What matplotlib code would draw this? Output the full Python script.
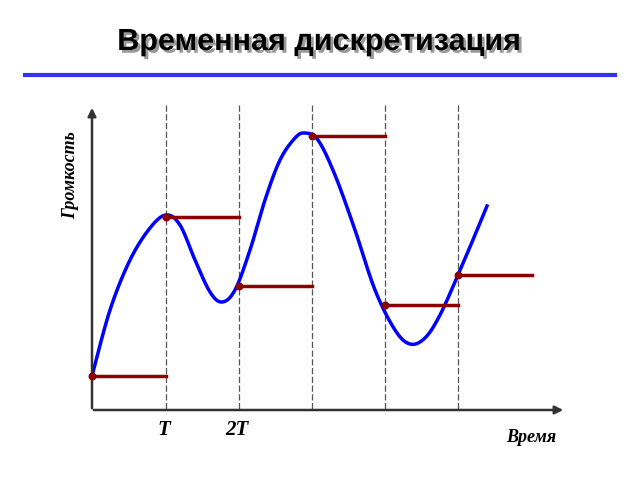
import numpy as np
import matplotlib.pyplot as plt
import matplotlib.patheffects as pe

# sample positions (pixel-space) and sampled values
sample_x = [92, 166, 239, 312, 385, 458]
sample_y = [376, 217, 286, 136, 305, 275]
hold_end = [166, 239, 312, 385, 458, 532]
# curve points
curve_x = [92,110,130,150,166,180,195,210,222,235,250,265,280,295,305,318,335,355,375,395,410,425,440,458,475,487]
curve_y = [376,310,260,228,215,225,260,292,302,290,250,200,160,138,133,140,175,230,290,330,344,338,315,275,235,206]
tick_labels = ["T", "2T"]

def catmull(xs, ys, n=12):
    P = np.column_stack([xs, ys]).astype(float)
    P = np.vstack([P[0], P, P[-1]])
    out = []
    for i in range(1, len(P) - 2):
        p0, p1, p2, p3 = P[i-1], P[i], P[i+1], P[i+2]
        for t in np.linspace(0, 1, n, endpoint=False):
            out.append(0.5*((2*p1) + (-p0+p2)*t + (2*p0-5*p1+4*p2-p3)*t*t + (-p0+3*p1-3*p2+p3)*t**3))
    out.append(P[-2])
    return np.array(out)

fig = plt.figure(figsize=(6.4, 4.8), dpi=100)
ax = fig.add_axes([0, 0, 1, 1])
ax.set_xlim(0, 640); ax.set_ylim(480, 0); ax.axis('off')

ax.text(319, 42, "Временная дискретизация", ha='center', va='center', fontsize=22,
        fontweight='bold', color='black', family='Liberation Sans',
        path_effects=[pe.withSimplePatchShadow(offset=(2, -2), shadow_rgbFace='#999999', alpha=1)])
ax.plot([25, 615], [75, 75], color='#3333ee', lw=3)

for x in sample_x[1:]:
    ax.plot([x, x], [105, 410], color='#555555', lw=0.9, ls=(0, (5, 2)))

ax.annotate('', xy=(92, 105), xytext=(92, 411), arrowprops=dict(arrowstyle='-|>', color='#333333', lw=1.8, mutation_scale=12))
ax.annotate('', xy=(566, 410), xytext=(91, 410), arrowprops=dict(arrowstyle='-|>', color='#333333', lw=1.8, mutation_scale=12))

c = catmull(curve_x, curve_y)
ax.plot(c[:, 0], c[:, 1], color='#0000ff', lw=2.5)

for x0, x1, y in zip(sample_x, hold_end, sample_y):
    ax.plot([x0, x1], [y, y], color='#8b0000', lw=2.5)
ax.scatter(sample_x, sample_y, s=22, color='#8b0000', zorder=5)

serif = dict(family='Liberation Serif', fontstyle='italic', fontweight='bold')
for x, t in zip(sample_x[1:3], tick_labels):
    ax.text(x - 2, 430, t, ha='center', va='center', fontsize=15, **serif)
ax.text(531, 437, "Время", ha='center', va='center', fontsize=13, **serif)
ax.text(71, 175, "Громкость", ha='center', va='center', fontsize=13, rotation=90, **serif)

fig.savefig("out.png", dpi=100)
